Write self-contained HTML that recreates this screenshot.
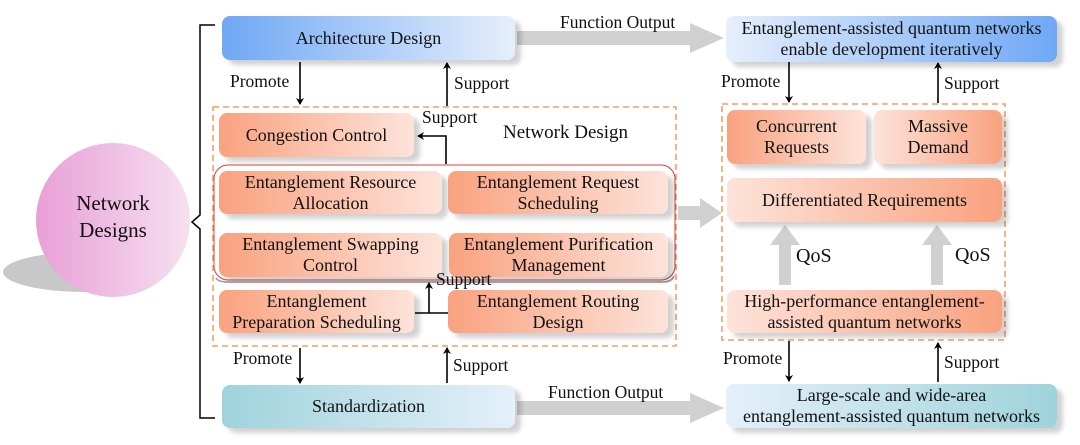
<!DOCTYPE html>
<html><head><meta charset="utf-8"><style>
body{margin:0;background:#fff;}
#c{position:relative;width:1080px;height:445px;overflow:hidden;font-family:"Liberation Serif",serif;color:#111;}
.b{position:absolute;display:flex;align-items:center;justify-content:center;text-align:center;font-size:18px;line-height:21px;border-radius:8px;box-shadow:6px 5px 5px rgba(0,0,0,0.18);white-space:nowrap;}
.o{background:linear-gradient(90deg,#f9a27f,#fde3da);}
.or{background:linear-gradient(90deg,#fde3da,#f9a27f);}
.t{position:absolute;font-size:17.5px;white-space:nowrap;}
</style></head><body><div id="c">
<svg width="1080" height="445" style="position:absolute;left:0;top:0">
<defs>
<linearGradient id="cg" x1="0" x2="1"><stop offset="0" stop-color="#e99fd8"/><stop offset="1" stop-color="#f6e0f0"/></linearGradient>
<marker id="a" markerWidth="8" markerHeight="8" refX="6" refY="4" orient="auto" markerUnits="userSpaceOnUse"><path d="M0,0 L7,4 L0,8 L2,4z" fill="#000"/></marker>
</defs>
<ellipse cx="85" cy="272" rx="82" ry="20" fill="#c8c8c8"/>
<circle cx="113" cy="220" r="77" fill="url(#cg)"/>
<path d="M215,25 H200 V215 L192,222 L200,229 V418 H215" fill="none" stroke="#000" stroke-width="1.5"/>
<g fill="#d0d0d0">
<path d="M517,31 H690 V23 L724,38 L690,53 V45 H517z"/>
<path d="M517,401 H690 V393 L724,408 L690,423 V415 H517z"/>
<path d="M678,206 H700 V198 L722,213 L700,228 V220 H678z"/>
<path d="M779,285 V245 H770 L785,225 L800,245 H791 V285z"/>
<path d="M931,285 V245 H922 L937,225 L952,245 H943 V285z"/>
</g>
<rect x="213" y="107" width="463" height="239" fill="none" stroke="#f08a40" stroke-width="1.3" stroke-dasharray="6,4"/>
<rect x="722" y="104" width="283" height="236" fill="none" stroke="#f08a40" stroke-width="1.3" stroke-dasharray="6,4"/>
<rect x="214" y="165" width="461" height="115" rx="14" fill="none" stroke="#d94040" stroke-width="1"/>
<path d="M216,278 Q218,282 228,282 H662 Q672,282 674,276" fill="none" stroke="#999" stroke-width="1.5"/>
<g stroke="#000" stroke-width="1.6" fill="none">
<line x1="300" y1="62" x2="300" y2="104" marker-end="url(#a)"/>
<line x1="447" y1="106" x2="447" y2="63" marker-end="url(#a)"/>
<line x1="300" y1="348" x2="300" y2="383" marker-end="url(#a)"/>
<line x1="447" y1="383" x2="447" y2="348" marker-end="url(#a)"/>
<path d="M446,164 V136 H418" marker-end="url(#a)"/>
<path d="M415,313 H448"/>
<line x1="429" y1="313" x2="429" y2="283" marker-end="url(#a)"/>
<line x1="789" y1="62" x2="789" y2="102" marker-end="url(#a)"/>
<line x1="938" y1="103" x2="938" y2="63" marker-end="url(#a)"/>
<line x1="789" y1="341" x2="789" y2="381" marker-end="url(#a)"/>
<line x1="938" y1="382" x2="938" y2="343" marker-end="url(#a)"/>
</g>
</svg>
<div style="position:absolute;left:38px;top:190px;width:150px;text-align:center;font-size:21px;line-height:27px">Network<br>Designs</div>
<div class="b" style="left:222px;top:16px;width:293px;height:44px;background:linear-gradient(90deg,#6fa8f5,#e6effc)">Architecture Design</div>
<div class="b" style="left:222px;top:385px;width:293px;height:43px;background:linear-gradient(90deg,#9fd3dc,#e4f0fa)">Standardization</div>
<div class="b" style="left:726px;top:16px;width:331px;height:46px;background:linear-gradient(90deg,#e6effc,#6fa8f5)">Entanglement-assisted quantum networks<br>enable development iteratively</div>
<div class="b" style="left:726px;top:384px;width:331px;height:44px;background:linear-gradient(90deg,#e4f0fa,#9fd3dc)">Large-scale and wide-area<br>entanglement-assisted quantum networks</div>
<div class="b o" style="left:219px;top:113px;width:195px;height:44px">Congestion Control</div>
<div class="b o" style="left:219px;top:171px;width:223px;height:43px">Entanglement Resource<br>Allocation</div>
<div class="b o" style="left:448px;top:171px;width:220px;height:43px">Entanglement Request<br>Scheduling</div>
<div class="b o" style="left:219px;top:233px;width:223px;height:44px">Entanglement Swapping<br>Control</div>
<div class="b o" style="left:449px;top:233px;width:219px;height:44px">Entanglement Purification<br>Management</div>
<div class="b o" style="left:219px;top:290px;width:195px;height:43px">Entanglement<br>Preparation Scheduling</div>
<div class="b o" style="left:448px;top:290px;width:220px;height:43px">Entanglement Routing<br>Design</div>
<div class="b o" style="left:727px;top:110px;width:139px;height:54px">Concurrent<br>Requests</div>
<div class="b or" style="left:874px;top:110px;width:128px;height:54px">Massive<br>Demand</div>
<div class="b or" style="left:727px;top:178px;width:275px;height:44px">Differentiated Requirements</div>
<div class="b or" style="left:727px;top:290px;width:275px;height:43px">High-performance entanglement-<br>assisted quantum networks</div>
<div class="t" style="left:503px;top:122px;font-size:19px">Network Design</div>
<div class="t" style="left:230px;top:71px">Promote</div>
<div class="t" style="left:454px;top:73px">Support</div>
<div class="t" style="left:422px;top:107px">Support</div>
<div class="t" style="left:436px;top:269px">Support</div>
<div class="t" style="left:233px;top:348px">Promote</div>
<div class="t" style="left:453px;top:355px">Support</div>
<div class="t" style="left:560px;top:12px">Function Output</div>
<div class="t" style="left:548px;top:382px">Function Output</div>
<div class="t" style="left:721px;top:71px">Promote</div>
<div class="t" style="left:944px;top:73px">Support</div>
<div class="t" style="left:723px;top:348px">Promote</div>
<div class="t" style="left:944px;top:352px">Support</div>
<div class="t" style="left:796px;top:245px;font-size:20px">QoS</div>
<div class="t" style="left:955px;top:244px;font-size:20px">QoS</div>
</div></body></html>
